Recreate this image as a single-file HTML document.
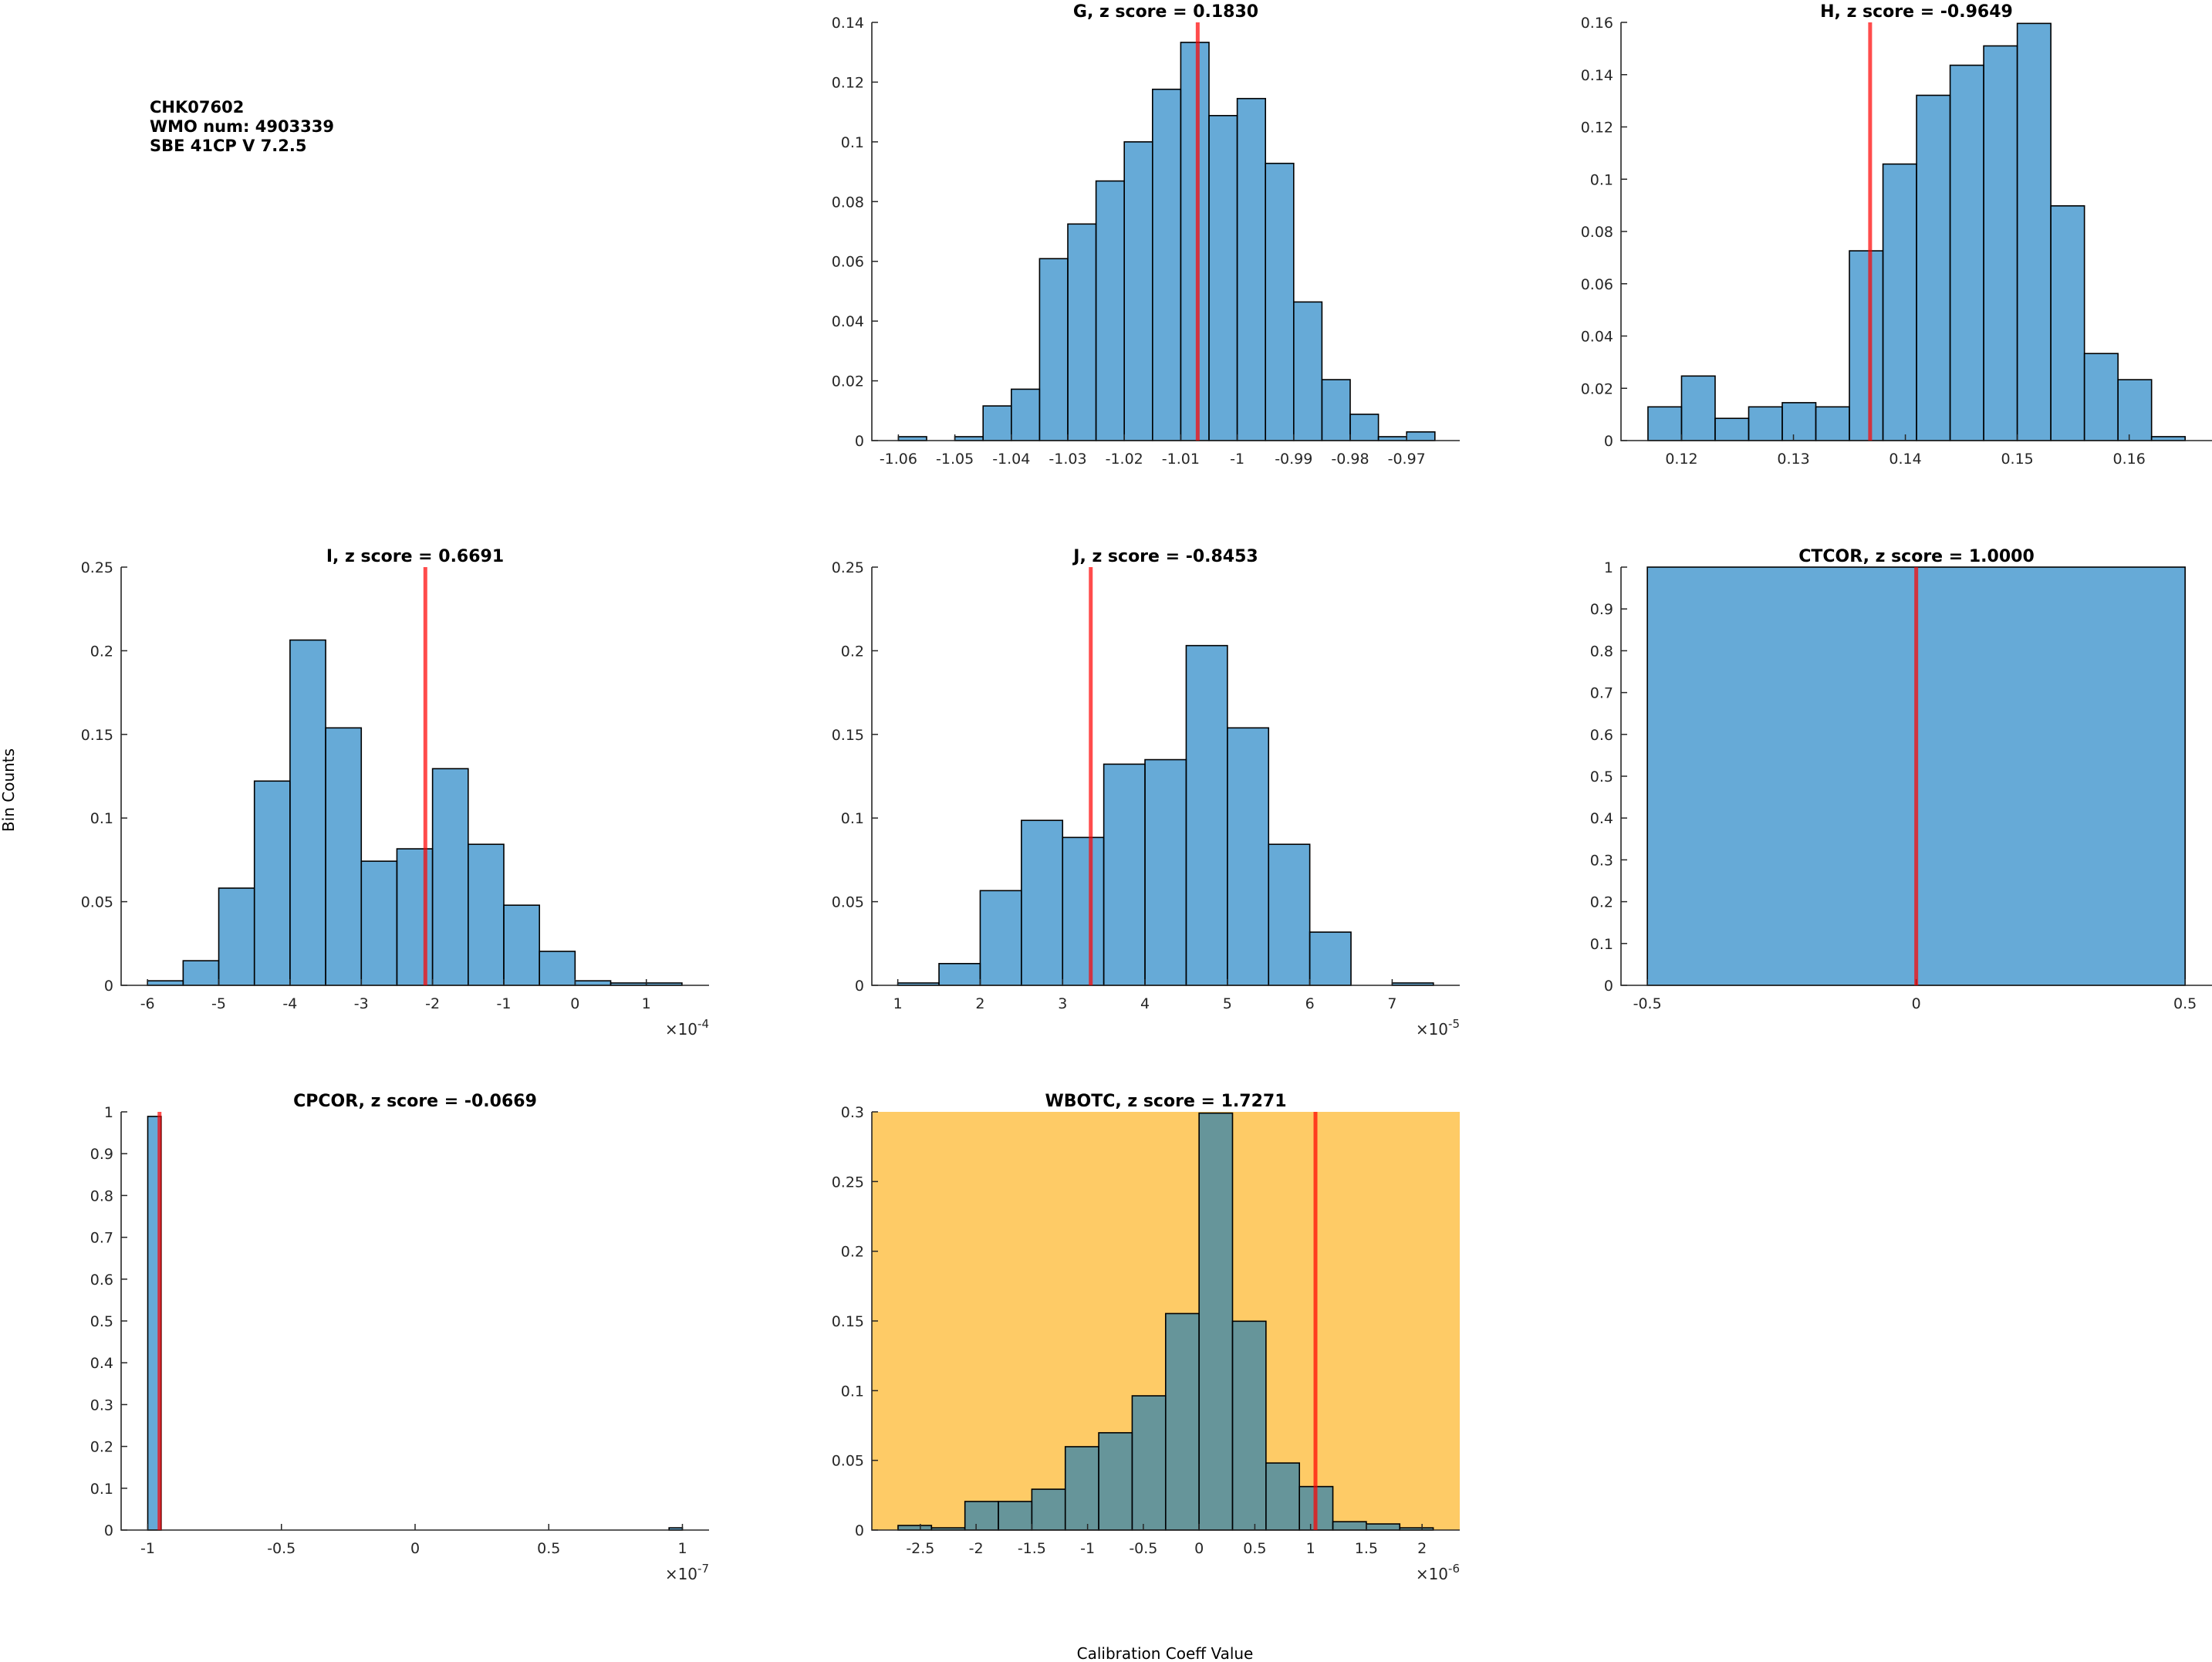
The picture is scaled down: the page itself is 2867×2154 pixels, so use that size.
<!DOCTYPE html>
<html><head><meta charset="utf-8"><style>
html,body{margin:0;padding:0;background:#fff;}
svg{display:block;font-family:"DejaVu Sans","Liberation Sans",sans-serif;}
</style></head><body>
<svg id="fig" width="2867" height="2154" viewBox="0 0 2867 2154" xmlns="http://www.w3.org/2000/svg">
<text x="194" y="146" font-size="21" font-weight="bold">CHK07602</text>
<text x="194" y="171" font-size="21" font-weight="bold">WMO num: 4903339</text>
<text x="194" y="196" font-size="21" font-weight="bold">SBE 41CP V 7.2.5</text>
<text x="0" y="0" font-size="20" text-anchor="middle" transform="translate(18,1024) rotate(-90)">Bin Counts</text>
<text x="1510" y="2150" font-size="20" text-anchor="middle">Calibration Coeff Value</text>
</svg>
<script>
// ---- G ----
const gEdges0 = -1.06, gWidth = 0.005;
const gValues = [0.0013,0,0.0013,0.0116,0.0172,0.0609,0.0725,0.0869,0.1000,0.1176,0.1333,0.1088,0.1145,0.0928,0.0464,0.0204,0.0088,0.0013,0.0029];
const gXTicks = [-1.06,-1.05,-1.04,-1.03,-1.02,-1.01,-1,-0.99,-0.98,-0.97];
const gYTicks = [0,0.02,0.04,0.06,0.08,0.1,0.12,0.14];
const gRed = -1.0070;
// ---- H ----
const hEdges0 = 0.117, hWidth = 0.003;
const hValues = [0.0129,0.0247,0.0085,0.0129,0.0145,0.0129,0.0726,0.1058,0.1321,0.1436,0.1510,0.1596,0.0898,0.0333,0.0233,0.0015];
const hXTicks = [0.12,0.13,0.14,0.15,0.16];
const hYTicks = [0,0.02,0.04,0.06,0.08,0.1,0.12,0.14,0.16];
const hRed = 0.13685;
// ---- I (x1e-4) ----
const iEdges0 = -6, iWidth = 0.5;
const iValues = [0.0027,0.0147,0.0581,0.1221,0.2064,0.1539,0.0742,0.0816,0.1295,0.0843,0.0479,0.0203,0.0027,0.0014,0.0014];
const iXTicks = [-6,-5,-4,-3,-2,-1,0,1];
const iYTicks = [0,0.05,0.1,0.15,0.2,0.25];
const iRed = -2.101;
// ---- J (x1e-5) ----
const jEdges0 = 1, jWidth = 0.5;
const jValues = [0.0014,0.013,0.0566,0.0986,0.0884,0.1322,0.1349,0.2031,0.1539,0.0843,0.0318,0,0.0014];
const jXTicks = [1,2,3,4,5,6,7];
const jYTicks = [0,0.05,0.1,0.15,0.2,0.25];
const jRed = 3.342;
// ---- CTCOR ----
const cEdges0 = -0.5, cWidth = 1;
const cValues = [1];
const cXTicks = [-0.5,0,0.5];
const cYTicks = [0,0.1,0.2,0.3,0.4,0.5,0.6,0.7,0.8,0.9,1];
const cRed = 0;
// ---- CPCOR (x1e-7) ----
const pEdges0 = -1, pWidth = 0.05;
const pValues = [0.9891,0,0,0,0,0,0,0,0,0,0,0,0,0,0,0,0,0,0,0,0,0,0,0,0,0,0,0,0,0,0,0,0,0,0,0,0,0,0,0.0054];
const pXTicks = [-1,-0.5,0,0.5,1];
const pYTicks = [0,0.1,0.2,0.3,0.4,0.5,0.6,0.7,0.8,0.9,1];
const pRed = -0.956;
// ---- WBOTC (x1e-6) ----
const wEdges0 = -2.7, wWidth = 0.3;
const wValues = [0.0033,0.0016,0.0205,0.0205,0.0293,0.0598,0.0698,0.0963,0.1553,0.2991,0.1498,0.0481,0.0312,0.006,0.0044,0.0016];
const wXTicks = [-2.5,-2,-1.5,-1,-0.5,0,0.5,1,1.5,2];
const wYTicks = [0,0.05,0.1,0.15,0.2,0.25,0.3];
const wRed = 1.044;

const NS = "http://www.w3.org/2000/svg";
const svg = document.getElementById('fig');
function mk(tag, attrs, parent){const e=document.createElementNS(NS,tag);for(const k in attrs)e.setAttribute(k,attrs[k]);(parent||svg).appendChild(e);return e;}

function panel(o){
  const g = mk('g',{});
  
  
  const X = v => o.x + (v - o.xmin)/(o.xmax - o.xmin)*o.w;
  const Y = v => o.y + o.h - (v - 0)/(o.ymax)*o.h;
  if(o.bg){
    const r = mk('rect',{x:o.x,y:o.y,width:o.w,height:o.h,fill:o.bg},g);
    
    
  }
  o.values.forEach((v,i)=>{
    if(v<=0) return;
    const x0=X(o.e0+i*o.bw), x1=X(o.e0+(i+1)*o.bw);
    const r = mk('rect',{x:x0,y:Y(v),width:x1-x0,height:Y(0)-Y(v),fill:'rgba(0,114,189,0.6)',stroke:'#000','stroke-width':1.6},g);
    
    
  });
  const ax = mk('path',{d:`M${o.x},${o.y}V${o.y+o.h}H${o.x+o.w}`,stroke:'#262626','stroke-width':1.6,fill:'none'},g);
  
  
  o.xt.forEach(t=>{
    const px=X(t);
    mk('line',{x1:px,x2:px,y1:o.y+o.h,y2:o.y+o.h-8,stroke:'#262626','stroke-width':1.5},g);
    const tx = mk('text',{x:px,y:o.y+o.h+30,'font-size':19,'text-anchor':'middle',fill:'#262626'},g);
    tx.textContent = String(t);
    
    
  });
  o.yt.forEach(t=>{
    const py=Y(t);
    mk('line',{x1:o.x,x2:o.x+8,y1:py,y2:py,stroke:'#262626','stroke-width':1.5},g);
    const tx = mk('text',{x:o.x-10,y:py+7,'font-size':19,'text-anchor':'end',fill:'#262626'},g);
    tx.textContent = String(t);
    
    
  });
  if(o.exp){
    const tx = mk('text',{x:o.x+o.w,y:o.y+o.h+64,'font-size':20,'text-anchor':'end',fill:'#262626'},g);
    tx.innerHTML = '×10<tspan dy="-9" font-size="15">'+o.exp+'</tspan>';
    
    
  }
  const rl = mk('line',{x1:X(o.red),x2:X(o.red),y1:o.y,y2:o.y+o.h,stroke:'rgba(255,0,0,0.7)','stroke-width':5},g);
  
  
  const tt = mk('text',{x:o.x+o.w/2,y:o.y-7,'font-size':22,'font-weight':'bold','text-anchor':'middle'},g);
  tt.textContent = o.title;
  
  
}
const W=762, W3=766, H=542;
const cx=[157,1130,2101], ry=[29,735,1441];
panel({name:'g',x:cx[1],y:ry[0],w:W,h:H,xmin:-1.0647,xmax:-0.9606,ymax:0.14,e0:gEdges0,bw:gWidth,values:gValues,xt:gXTicks,yt:gYTicks,red:gRed,title:'G, z score = 0.1830'});
panel({name:'h',x:cx[2],y:ry[0],w:W3,h:H,xmin:0.11459,xmax:0.1674,ymax:0.16,e0:hEdges0,bw:hWidth,values:hValues,xt:hXTicks,yt:hYTicks,red:hRed,title:'H, z score = -0.9649'});
panel({name:'i',x:cx[0],y:ry[1],w:W,h:H,xmin:-6.37,xmax:1.88,ymax:0.25,e0:iEdges0,bw:iWidth,values:iValues,xt:iXTicks,yt:iYTicks,red:iRed,exp:'-4',title:'I, z score = 0.6691'});
panel({name:'j',x:cx[1],y:ry[1],w:W,h:H,xmin:0.685,xmax:7.82,ymax:0.25,e0:jEdges0,bw:jWidth,values:jValues,xt:jXTicks,yt:jYTicks,red:jRed,exp:'-5',title:'J, z score = -0.8453'});
panel({name:'ctcor',x:cx[2],y:ry[1],w:W3,h:H,xmin:-0.549,xmax:0.55,ymax:1,e0:cEdges0,bw:cWidth,values:cValues,xt:cXTicks,yt:cYTicks,red:cRed,title:'CTCOR, z score = 1.0000'});
panel({name:'cpcor',x:cx[0],y:ry[2],w:W,h:H,xmin:-1.0996,xmax:1.0996,ymax:1,e0:pEdges0,bw:pWidth,values:pValues,xt:pXTicks,yt:pYTicks,red:pRed,exp:'-7',title:'CPCOR, z score = -0.0669'});
panel({name:'wbotc',x:cx[1],y:ry[2],w:W,h:H,xmin:-2.935,xmax:2.338,ymax:0.3,e0:wEdges0,bw:wWidth,values:wValues,xt:wXTicks,yt:wYTicks,red:wRed,exp:'-6',bg:'#FECB66',title:'WBOTC, z score = 1.7271'});
</script>
</body></html>
